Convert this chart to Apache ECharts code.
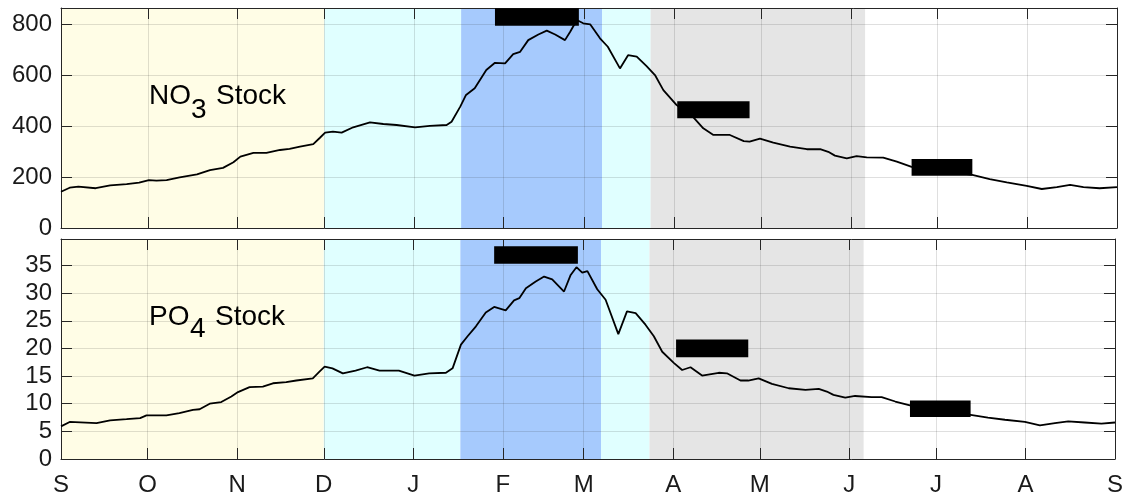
<!DOCTYPE html>
<html><head><meta charset="utf-8">
<script src="https://cdn.jsdelivr.net/npm/echarts@6/dist/echarts.min.js"></script>
<style>html,body{margin:0;padding:0;background:#fff}#c{width:1126px;height:500px}</style>
</head><body><div id="c"></div>
<script>
// ---- data ----
const monthLabels = ['S','O','N','D','J','F','M','A','M','J','J','A','S'];
const monthDays = [0,30,61,91,122,153,181,212,242,273,303,334,365];

const no3Day = [0,3,6,12,17,22.7,27,30.4,33,36.5,41,47,51.5,56,59.6,62,66.5,71,75.7,79,82.6,87.2,89.5,91.3,94,97,101,106.8,111.4,116,122.4,127.5,133.3,135,138,140,143,147,150,153.5,156.3,158.7,161.5,165,167.9,170.8,174.2,176,178.3,180.5,182.9,186.3,189,193.2,196,199,202.4,205.3,208.2,212.8,218.6,222,225.5,231.2,236,238,241.6,246.2,252,257.8,262.4,265.2,267.5,271.6,275,278.5,284.2,288.9,294,304,315,321,326.9,333.8,339,344.2,348.8,353.4,359,365];
const no3Val = [142,158,162,156,167,172,178,188,186,188,199,210,227,236,258,280,295,295,306,310,319,329,354,374,378,374,395,414,408,404,395,401,404,417,476,522,548,620,648,646,682,691,737,759,774,759,737,770,816,803,799,744,711,626,678,672,635,600,541,482,434,391,365,365,341,339,351,335,319,309,309,299,284,273,282,277,276,260,240,225,208,192,179,165,153,160,169,160,156,160];

const po4Day = [0,3,12.3,17,22.7,27.4,29.6,36.5,41,45.7,48,51.5,55.5,59,61.3,65.3,69.9,73.4,78,81.5,87.2,89.5,91.3,94,97.6,102,106,110.3,117,122.4,127.5,133.3,135.6,138.5,140.8,143.7,147.1,150,154,156.9,158.7,161,164.4,167.3,170.1,174.2,176.5,178.5,180.5,182.3,185.7,188.6,193,196,199,202.4,205.3,208.2,212.2,215.1,218,222,227.8,230.6,235.3,238,241.6,246.2,252,257.8,262.4,265.2,267.5,271.6,275,280.7,284.2,288.9,294,304,315,321,326.9,333.8,339,344.2,348.8,354.5,360.3,365];
const po4Val = [5.9,6.7,6.5,7.0,7.2,7.4,7.9,7.9,8.3,8.9,9.0,10.0,10.3,11.3,12.1,13.0,13.1,13.7,13.9,14.2,14.6,15.8,16.7,16.4,15.5,16.0,16.6,16.0,16.0,15.1,15.5,15.6,16.4,20.7,22.2,24.0,26.5,27.5,26.9,28.7,29.1,30.9,32.1,33.0,32.5,30.3,33.3,34.7,33.7,34.0,30.7,28.8,22.6,26.7,26.4,24.3,22.2,19.4,17.4,16.1,16.6,15.1,15.6,15.5,14.2,14.2,14.6,13.6,12.8,12.5,12.7,12.2,11.6,11.1,11.4,11.2,11.2,10.4,9.7,8.9,8.0,7.5,7.1,6.7,6.1,6.5,6.8,6.6,6.4,6.6];

const bandStart = [0,91,138.3,187,203.8,278];
const bandEnd   = [91,138.3,187,203.8,278,365];

const barStart = [150,213,294];
const barEnd   = [179,238,315];
const no3BarLo = [793,431,205];
const no3BarHi = [862,497,271];
const po4BarLo = [35.3,18.4,7.6];
const po4BarHi = [38.5,21.6,10.6];

const no3Max = 863, po4Max = 39.8;

// ---- styles ----
const bandColors = ['#fffde6','#e0ffff','#a6cafd','#e0ffff','#e5e5e5','#ffffff'];
const axisCol = '#262626';
const gridCol = 'rgba(38,38,38,0.15)';
const FONT = '"Liberation Sans", Arial, sans-serif';

const zip = (a, b) => a.map((v, i) => [v, b[i]]);
const bandData = bandStart.map((s, i) => [s, bandEnd[i], i]);
const no3Bars = barStart.map((s, i) => [s, barEnd[i], no3BarLo[i], no3BarHi[i]]);
const po4Bars = barStart.map((s, i) => [s, barEnd[i], po4BarLo[i], po4BarHi[i]]);

function renderBand(params, api) {
  const x0 = api.coord([api.value(0), 0])[0];
  const x1 = api.coord([api.value(1), 0])[0];
  const cs = params.coordSys;
  return {type: 'rect', shape: {x: x0, y: cs.y, width: x1 - x0, height: cs.height},
          style: {fill: bandColors[api.value(2)]}};
}
function renderBar(params, api) {
  const p0 = api.coord([api.value(0), api.value(3)]);
  const p1 = api.coord([api.value(1), api.value(2)]);
  return {type: 'rect', shape: {x: p0[0], y: p0[1], width: p1[0] - p0[0], height: p1[1] - p0[1]},
          style: {fill: '#000'}};
}

function xAxes(gridIndex, showLabels) {
  return [{
    type: 'value', gridIndex, min: 0, max: 365, position: 'bottom', z: 3,
    axisLine: {show: true, onZero: false, lineStyle: {color: axisCol, width: 1}},
    axisTick: {show: true, inside: true, length: 11, customValues: monthDays, lineStyle: {color: axisCol}},
    axisLabel: {show: showLabels, customValues: monthDays, formatter: v => monthLabels[monthDays.indexOf(v)],
                margin: 14, color: '#1a1a1a', fontSize: 24, fontFamily: FONT},
    splitLine: {show: true, lineStyle: {color: gridCol, width: 1}}
  }, {
    type: 'value', gridIndex, min: 0, max: 365, position: 'top', z: 3,
    axisLine: {show: true, onZero: false, lineStyle: {color: axisCol, width: 1}},
    axisTick: {show: true, inside: true, length: 11, customValues: monthDays, lineStyle: {color: axisCol}},
    axisLabel: {show: false, customValues: monthDays},
    splitLine: {show: false}
  }];
}
function yAxes(gridIndex, max, interval) {
  return [{
    type: 'value', gridIndex, min: 0, max, interval, position: 'left', z: 3,
    axisLine: {show: true, onZero: false, lineStyle: {color: axisCol, width: 1}},
    axisTick: {show: true, inside: true, length: 11, lineStyle: {color: axisCol}},
    axisLabel: {formatter: v => (Math.abs(v / interval - Math.round(v / interval)) < 1e-6 ? String(v) : ''),
                margin: 9, color: '#1a1a1a', fontSize: 24, fontFamily: FONT},
    splitLine: {show: true, lineStyle: {color: gridCol, width: 1}}
  }, {
    type: 'value', gridIndex, min: 0, max, interval, position: 'right', z: 3,
    axisLine: {show: true, onZero: false, lineStyle: {color: axisCol, width: 1}},
    axisTick: {show: true, inside: true, length: 11, lineStyle: {color: axisCol}},
    axisLabel: {show: false},
    splitLine: {show: false}
  }];
}

const chart = echarts.init(document.getElementById('c'), null, {renderer: 'canvas'});
chart.setOption({
  animation: false,
  backgroundColor: '#fff',
  grid: [
    {left: 61, right: 9, top: 8, height: 220},
    {left: 61, right: 9, top: 239, height: 220}
  ],
  xAxis: [...xAxes(0, false), ...xAxes(1, true)],
  yAxis: [...yAxes(0, no3Max, 200), ...yAxes(1, po4Max, 5)],
  series: [
    {type: 'custom', xAxisIndex: 0, yAxisIndex: 0, data: bandData, renderItem: renderBand, z: 1, silent: true},
    {type: 'custom', xAxisIndex: 2, yAxisIndex: 2, data: bandData, renderItem: renderBand, z: 1, silent: true},
    {type: 'line', xAxisIndex: 0, yAxisIndex: 0, data: zip(no3Day, no3Val), showSymbol: false,
     lineStyle: {color: '#000', width: 1.8}, z: 5},
    {type: 'line', xAxisIndex: 2, yAxisIndex: 2, data: zip(po4Day, po4Val), showSymbol: false,
     lineStyle: {color: '#000', width: 1.8}, z: 5},
    {type: 'custom', xAxisIndex: 0, yAxisIndex: 0, data: no3Bars, renderItem: renderBar, z: 6},
    {type: 'custom', xAxisIndex: 2, yAxisIndex: 2, data: po4Bars, renderItem: renderBar, z: 6}
  ],
  graphic: [
    {type: 'text', x: 149, y: 96, z: 10, style: {text: 'NO', font: '28px ' + FONT, fill: '#000', verticalAlign: 'middle'}},
    {type: 'text', x: 191, y: 110, z: 10, style: {text: '3', font: '28px ' + FONT, fill: '#000', verticalAlign: 'middle'}},
    {type: 'text', x: 216, y: 96, z: 10, style: {text: 'Stock', font: '28px ' + FONT, fill: '#000', verticalAlign: 'middle'}},
    {type: 'text', x: 149, y: 317, z: 10, style: {text: 'PO', font: '28px ' + FONT, fill: '#000', verticalAlign: 'middle'}},
    {type: 'text', x: 190, y: 329, z: 10, style: {text: '4', font: '28px ' + FONT, fill: '#000', verticalAlign: 'middle'}},
    {type: 'text', x: 215, y: 317, z: 10, style: {text: 'Stock', font: '28px ' + FONT, fill: '#000', verticalAlign: 'middle'}}
  ]
});
</script>
</body></html>
